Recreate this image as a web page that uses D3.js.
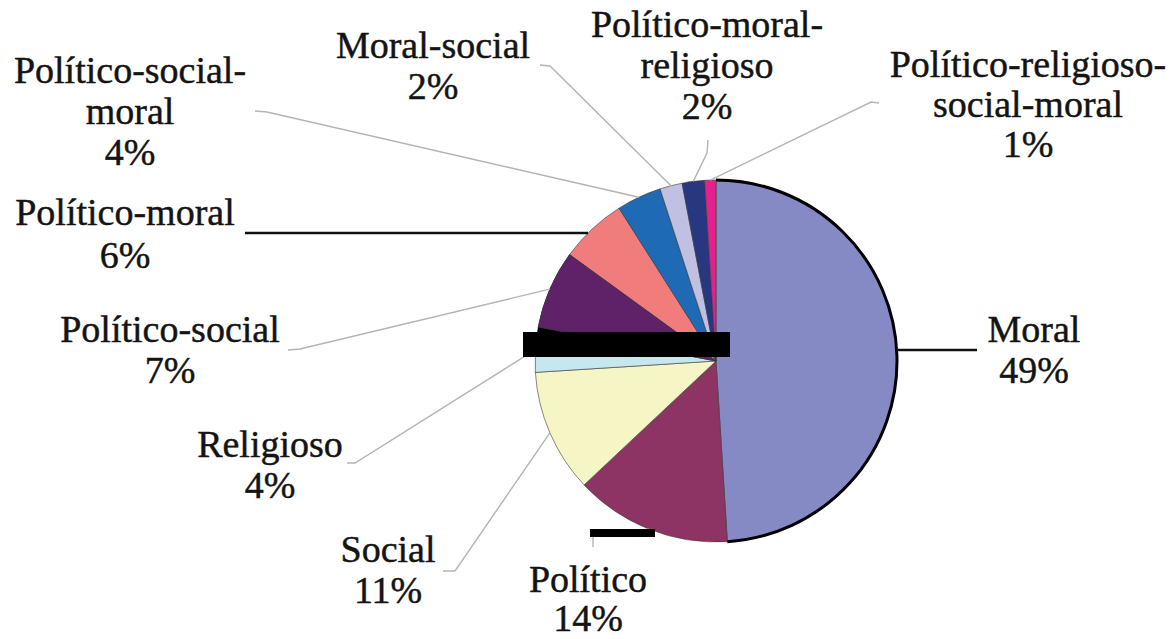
<!DOCTYPE html>
<html>
<head>
<meta charset="utf-8">
<script src="https://cdn.jsdelivr.net/npm/d3@7"></script>
<style>
  html, body { margin: 0; padding: 0; background: #fff; }
  svg { display: block; }
</style>
</head>
<body>
<svg id="chart" width="1176" height="639"></svg>
<script>
// Categories of discourse and their share (%)
const categories = [
  "Moral", "Político", "Social", "Religioso", "Político-social",
  "Político-moral", "Político-social-moral", "Moral-social",
  "Político-moral-religioso", "Político-religioso-social-moral"
];
const shares = [49, 14, 11, 4, 7, 6, 4, 2, 2, 1];
const sliceColours = [
  "#8589c4", "#8e3464", "#f6f5c6", "#c7e7ee", "#5f2167",
  "#f07d7b", "#1e6ab4", "#bfc0e2", "#283880", "#e6208c"
];

// Label placement: centre x, first baseline, how many hyphen-parts go on line 1,
// and the outer points of each leader line (inner end sits on the slice edge).
const labelLayout = [
  { x: 1034, y: 342, split: 0, leader: [[977, 350]], dark: true, flat: true },
  { x: 588,  y: 592, split: 0, leader: [[593, 547], [593, 533]], gap: 39 },
  { x: 388,  y: 562, split: 0, leader: [[443, 571], [455, 571]] },
  { x: 270,  y: 457, split: 0, leader: [[347, 463], [355, 463]] },
  { x: 170,  y: 342, split: 0, leader: [[288, 350], [300, 349]] },
  { x: 125,  y: 225, split: 0, leader: [[245, 233]], dark: true, flat: true, gap: 43 },
  { x: 130,  y: 83,  split: 2, leader: [[255, 111], [267, 112]] },
  { x: 433,  y: 58,  split: 0, leader: [[540, 65], [550, 66]] },
  { x: 707,  y: 37,  split: 2, leader: [[708, 140], [707, 153]] },
  { x: 1028, y: 77,  split: 2, leader: [[879, 103], [871, 102]], gap: 40 }
];
const lineGap = 41;

const data = categories.map((c, i) => ({ name: c, value: shares[i], colour: sliceColours[i], layout: labelLayout[i] }));

const svg = d3.select("#chart");
const cx = 716, cy = 361, r = 181;

const pie = d3.pie().sort(null).value(d => d.value).startAngle(0).endAngle(2 * Math.PI);
const arcs = pie(data);
const arc = d3.arc().innerRadius(0).outerRadius(r);
const rim = d3.arc().innerRadius(r).outerRadius(r);

const g = svg.append("g").attr("transform", `translate(${cx},${cy})`);

// slices
g.selectAll("path.slice")
  .data(arcs)
  .join("path")
  .attr("class", "slice")
  .attr("d", arc)
  .attr("fill", d => d.data.colour)
  .attr("stroke", "#3a3a3a")
  .attr("stroke-width", 0.6);

// point on the rim in the middle of a slice
function rimPoint(d) {
  const a = (d.startAngle + d.endAngle) / 2;
  return [cx + r * Math.sin(a), cy - r * Math.cos(a)];
}
// point on the rim at height y, on the side of the slice's middle
function rimAtY(d, y) {
  const a = (d.startAngle + d.endAngle) / 2;
  const side = Math.sin(a) >= 0 ? 1 : -1;
  return [cx + side * Math.sqrt(r * r - (y - cy) * (y - cy)), y];
}

// leader lines
const lineGen = d3.line();
svg.append("g").selectAll("path.leader")
  .data(arcs)
  .join("path")
  .attr("class", "leader")
  .attr("d", d => {
    const pts = d.data.layout.leader;
    const last = pts[pts.length - 1];
    const p = d.data.layout.flat ? rimAtY(d, last[1]) : rimPoint(d);
    return lineGen([...pts, p]);
  })
  .attr("fill", "none")
  .attr("stroke", d => d.data.layout.dark ? "#111" : "#b4b4b4")
  .attr("stroke-width", d => d.data.layout.dark ? 2.4 : 1.4);

// blacked-out band across the left side; it also covers the upper part of the
// Religioso slice, and the Político-social slice lies over it
const band = { x: cx - 193, y: cy - 29, w: 207, h: 25 };
svg.append("defs").append("clipPath").attr("id", "aboveBand")
  .append("rect")
  .attr("x", -r - 10).attr("y", -r - 10)
  .attr("width", 2 * r + 20).attr("height", r + 10 + (band.y + band.h - cy));
g.append("path")
  .attr("d", arc(arcs[3]))
  .attr("fill", "#000")
  .attr("clip-path", "url(#aboveBand)");
svg.append("rect")
  .attr("x", band.x).attr("y", band.y)
  .attr("width", band.w).attr("height", band.h)
  .attr("fill", "#000");
g.append("path")
  .attr("d", arc(arcs[4]))
  .attr("fill", arcs[4].data.colour)
  .attr("stroke", "#3a3a3a")
  .attr("stroke-width", 0.6);

// blacked-out bar under the Político slice
svg.append("rect")
  .attr("x", cx - 126).attr("y", cy + 168)
  .attr("width", 65).attr("height", 8)
  .attr("fill", "#000");

// highlighted outline on the Moral slice rim
g.append("path")
  .attr("d", rim({ startAngle: arcs[0].startAngle, endAngle: arcs[0].endAngle }))
  .attr("fill", "none")
  .attr("stroke", "#000")
  .attr("stroke-width", 3);

// labels
function labelLines(d) {
  const name = d.data.name;
  const k = d.data.layout.split;
  let lines = [name];
  if (k > 0) {
    const parts = name.split("-");
    lines = [parts.slice(0, k).join("-") + "-", parts.slice(k).join("-")];
  }
  return [...lines, d.data.value + "%"];
}

const labels = svg.append("g")
  .attr("font-family", "'Liberation Serif', 'DejaVu Serif', serif")
  .attr("font-size", 38)
  .attr("fill", "#141414")
  .attr("stroke", "#141414")
  .attr("stroke-width", 0.45)
  .selectAll("text")
  .data(arcs)
  .join("text")
  .attr("text-anchor", "middle")
  .attr("x", d => d.data.layout.x)
  .attr("y", d => d.data.layout.y);

labels.selectAll("tspan")
  .data(d => labelLines(d).map((t, i) => ({
    t, i, x: d.data.layout.x, y: d.data.layout.y, gap: d.data.layout.gap || lineGap
  })))
  .join("tspan")
  .attr("x", d => d.x)
  .attr("y", d => d.y + d.i * d.gap)
  .text(d => d.t);
</script>
</body>
</html>
